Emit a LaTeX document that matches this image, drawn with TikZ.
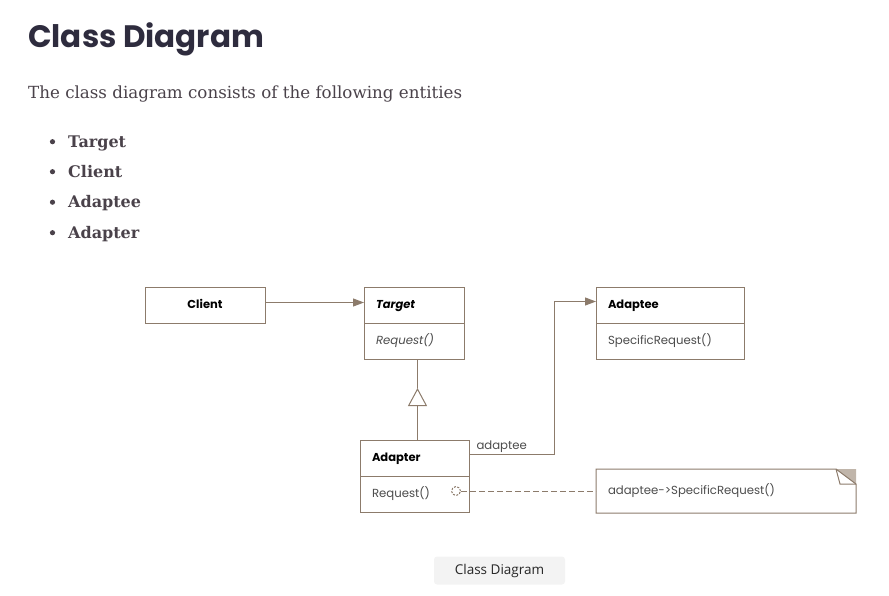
\documentclass[tikz,border=0pt]{standalone}
\usepackage{fontspec}
\setmainfont{DejaVu Serif}
\newfontfamily\headfont{Poppins}
\newfontfamily\umlfont{Poppins}
\newfontfamily\capfont{Open Sans}
\usetikzlibrary{arrows.meta,positioning}
\definecolor{umlline}{RGB}{140,123,107}
\definecolor{foldgray}{RGB}{192,181,170}
\definecolor{headink}{RGB}{46,44,62}
\definecolor{bodyink}{RGB}{74,66,74}
\definecolor{capfill}{RGB}{243,243,243}

\begin{document}
\begin{tikzpicture}[x=1pt,y=-1pt,
  classhead/.style={draw=umlline,line width=1pt,fill=white,outer sep=0pt,
    minimum height=36pt,inner xsep=12pt,align=left,text height=8pt,text depth=2pt,
    font=\umlfont\bfseries\fontsize{11.5}{13}\selectfont},
  classops/.style={classhead,font=\umlfont\fontsize{11.7}{13}\selectfont,text=black!70},
  assoc/.style={draw=umlline,line width=1pt,-{Triangle[length=11pt,width=8pt]}},
  inherit/.style={draw=umlline,line width=1pt,-{Triangle[open,length=18pt,width=19pt,fill=white]}},
  realize/.style={draw=umlline,line width=1pt,dash pattern=on 6pt off 3pt}]
\useasboundingbox (0,0) rectangle (889,595);
% page text
\node[anchor=base west,inner sep=0pt,text=headink,
  font=\headfont\bfseries\fontsize{31}{36}\selectfont] (title) at (28,47.5) {Class Diagram};
\node[anchor=base west,inner sep=0pt,text=bodyink,
  font=\fontsize{16.7}{20}\selectfont] (intro) at (28,98.3) {The class diagram consists of the following entities};
\foreach \name/\y [count=\i] in {Target/147,Client/177,Adaptee/207.5,Adapter/238} {
  \fill[bodyink] (52.5,\y-5.3) circle (2.6pt);
  \node[anchor=base west,inner sep=0pt,text=bodyink,
    font=\bfseries\fontsize{16}{20}\selectfont] (item\i) at (68,\y) {\name};
}
% classes
\node[classhead,minimum width=120pt,align=center] (client) at (205,305.5) {Client};
\node[classhead,text width=76pt,font=\umlfont\bfseries\itshape\fontsize{11.5}{13}\selectfont] (target) at (414,305.5) {Target};
\node[classops,text width=76pt,below=0pt of target,font=\umlfont\itshape\fontsize{11.7}{13}\selectfont] (targetops) {Request()};
\node[classhead,text width=124pt] (adaptee) at (670,305.5) {Adaptee};
\node[classops,text width=124pt,below=0pt of adaptee] (adapteeops) {SpecificRequest()};
\node[classhead,text width=85pt] (adapter) at (414.5,458.5) {Adapter};
\node[classops,text width=85pt,below=0pt of adapter] (adapterops) {Request()};
% note
\node[outer sep=0pt,minimum width=260pt,minimum height=44pt,inner xsep=12pt,text width=236pt,
  align=left,text=black!70,font=\umlfont\fontsize{11.7}{13}\selectfont] (note) at (726,491) {adaptee->SpecificRequest()};
\fill[foldgray] ([xshift=-20pt]note.north east) -- (note.north east) -- ([yshift=-15pt]note.north east) -- cycle;
\draw[umlline,line width=1pt] (note.north west) -- ([xshift=-20pt]note.north east)
  -- ([yshift=-15pt]note.north east) -- (note.south east) -- (note.south west) -- cycle;
\draw[umlline,line width=1pt] ([xshift=-20pt]note.north east) -- ([xshift=-16pt,yshift=-15pt]note.north east)
  -- ([yshift=-15pt]note.north east);
% relations
\draw[assoc] ([yshift=3pt]client.east) -- ([yshift=3pt]target.west);
\coordinate (genapex) at (417.5,388);
\draw[inherit] ([xshift=3pt]adapter.north) -- (genapex);
\draw[umlline,line width=1pt] (genapex) -- (genapex |- targetops.south);
\coordinate (elbow) at (554,301.5);
\draw[assoc] ([yshift=4pt]adapter.east) node[anchor=south west,inner sep=1pt,xshift=6pt,text=black!70,
  font=\umlfont\fontsize{11.7}{13}\selectfont] (rolename) {adaptee} -| (elbow) -- ([yshift=4pt]adaptee.west);
\node[circle,draw=umlline,line width=1pt,dash pattern=on 2pt off 1.5pt,minimum size=9pt,inner sep=0pt] (opmark) at (456,491) {};
\draw[realize] (opmark.east) -- (note.west);
% caption
\node[fill=capfill,rounded corners=3pt,minimum width=131pt,minimum height=28pt,text=black!85,
  font=\capfont\fontsize{13.5}{16}\selectfont] (caption) at (499.5,570.5) {Class Diagram};
\end{tikzpicture}
\end{document}
